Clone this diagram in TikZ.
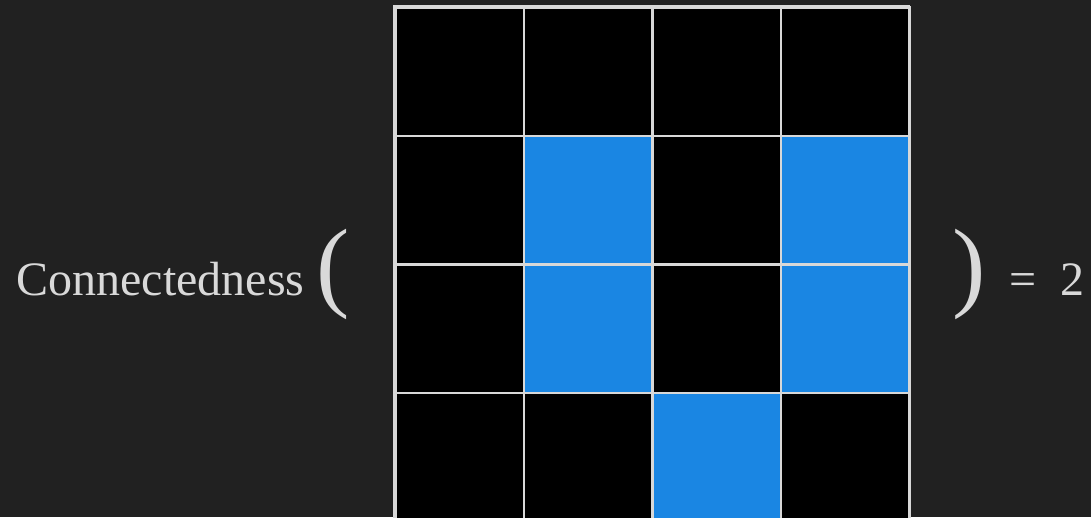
\documentclass[tikz,border=0pt]{standalone}
\usepackage{fontspec}
\setmainfont{Liberation Serif}
\definecolor{bg}{HTML}{212121}
\definecolor{txt}{HTML}{D9D9D9}
\definecolor{cellblue}{HTML}{1A86E3}
\definecolor{gridline}{HTML}{D8D8D8}
\tikzset{
  lbl/.style={inner sep=0pt, outer sep=0pt, anchor=base west, text=txt, font=\fontsize{48}{52}\selectfont},
  paren/.style={inner sep=0pt, outer sep=0pt, anchor=base west, text=txt, font=\fontsize{100}{110}\selectfont},
  cell/.style={draw=gridline, line width=2.5pt, minimum width=128.5pt, minimum height=128.5pt, inner sep=0pt, anchor=north west, fill=black},
  bcell/.style={cell, fill=cellblue}
}
\begin{document}
\begin{tikzpicture}[x=1pt,y=-1pt]
\fill[bg] (0,0) rectangle (1091,517);
\useasboundingbox (0,0) rectangle (1091,517);
\begin{scope}
\clip (0,0) rectangle (1091,517);
\fill[gridline] (392.5,4.5) rectangle (909.5,525);
\node[cell]  (c00) at (394,6) {};
\node[cell]  (c01) at (522.5,6) {};
\node[cell]  (c02) at (651,6) {};
\node[cell]  (c03) at (779.5,6) {};
\node[cell]  (c10) at (394,134.5) {};
\node[bcell] (c11) at (522.5,134.5) {};
\node[cell]  (c12) at (651,134.5) {};
\node[bcell] (c13) at (779.5,134.5) {};
\node[cell]  (c20) at (394,263) {};
\node[bcell] (c21) at (522.5,263) {};
\node[cell]  (c22) at (651,263) {};
\node[bcell] (c23) at (779.5,263) {};
\node[cell]  (c30) at (394,391.5) {};
\node[cell]  (c31) at (522.5,391.5) {};
\node[bcell] (c32) at (651,391.5) {};
\node[cell]  (c33) at (779.5,391.5) {};
\end{scope}
\node[lbl] (name) at (16.5,295) {Connectedness};
\node[paren] (lp) at (316,298) {(};
\node[paren] (rp) at (952,298) {)};
\node[lbl] (eq) at (1009.4,295) {=};
\node[lbl] (two) at (1060.6,295) {2};
\end{tikzpicture}
\end{document}
